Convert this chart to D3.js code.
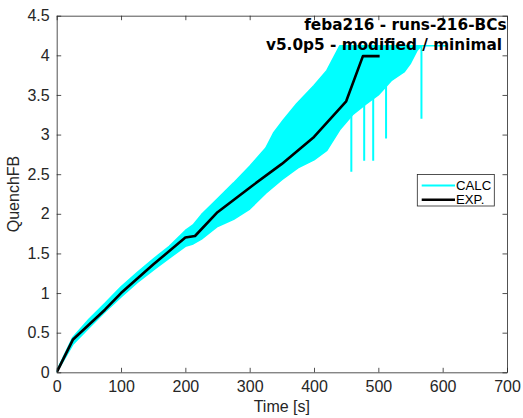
<!DOCTYPE html>
<html><head><meta charset="utf-8">
<script src="https://cdn.jsdelivr.net/npm/d3@7"></script>
<style>
html,body{margin:0;padding:0;background:#fff;}
svg{display:block;}
</style></head>
<body>
<svg id="chart" width="523" height="418"></svg>
<script>
// ---- data ----
const xTicks = [0,100,200,300,400,500,600,700];
const yTicks = [0,0.5,1,1.5,2,2.5,3,3.5,4,4.5];
const yTickLabels = ["0","0.5","1","1.5","2","2.5","3","3.5","4","4.5"];
const titleLines = ["feba216 - runs-216-BCs","v5.0p5 - modified / minimal"];
const seriesNames = ["CALC","EXP."];

// experimental quench front
const expTime  = [0, 25, 50, 75, 100, 150, 200, 215, 250, 300, 350, 400, 450, 476, 502];
const expValue = [0, 0.41, 0.60, 0.79, 1.0, 1.36, 1.70, 1.72, 2.02, 2.33, 2.63, 2.97, 3.42, 3.99, 3.99];

// calculated ensemble: envelope of runs
const calcUpperTime  = [0, 25, 50, 75, 100, 125, 150, 175, 200, 212, 225, 250, 275, 300, 325, 337, 352, 373, 400, 420, 440, 605];
const calcUpperValue = [0.02, 0.44, 0.67, 0.87, 1.08, 1.26, 1.43, 1.59, 1.79, 1.86, 1.99, 2.19, 2.39, 2.60, 2.83, 3.02, 3.18, 3.39, 3.62, 3.81, 4.12, 4.12];
const calcLowerTime  = [0, 25, 50, 75, 100, 125, 150, 175, 200, 212, 225, 250, 275, 300, 325, 350, 375, 400, 420, 440, 460, 480, 500, 520, 540, 550, 560, 567, 605];
const calcLowerValue = [0, 0.35, 0.56, 0.76, 0.95, 1.13, 1.29, 1.44, 1.59, 1.62, 1.68, 1.84, 1.93, 2.06, 2.26, 2.43, 2.58, 2.68, 2.80, 3.06, 3.25, 3.38, 3.50, 3.68, 3.79, 3.90, 4.06, 4.12, 4.12];
// drop-outs of individual runs after quench
const spikeTime   = [458, 478, 492, 512, 567];
const spikeBottom = [2.53, 2.67, 2.67, 2.95, 3.20];
const spikeTop    = [4.0, 4.05, 4.12, 4.12, 4.12];

// ---- layout ----
const svg = d3.select("#chart");
const m = {left:56.7, right:507, top:15.7, bottom:372.3};
const x = d3.scaleLinear().domain([0,700]).range([m.left, m.right]);
const y = d3.scaleLinear().domain([0,4.5]).range([m.bottom, m.top]);
const axisColor = "#262626";
const cyan = "#00FFFF";

// clip
svg.append("clipPath").attr("id","clip").append("rect")
  .attr("x",m.left).attr("y",m.top).attr("width",m.right-m.left).attr("height",m.bottom-m.top);
const plot = svg.append("g").attr("clip-path","url(#clip)");

// CALC envelope: build polygon from upper + reversed lower
const upperPts = calcUpperTime.map((t,i)=>[t,calcUpperValue[i]]);
const lowerPts = calcLowerTime.map((t,i)=>[t,calcLowerValue[i]]).reverse();
const band = upperPts.concat(lowerPts);
plot.append("path")
  .attr("d", d3.line().x(d=>x(d[0])).y(d=>y(d[1]))(band) + "Z")
  .attr("fill", cyan).attr("stroke", cyan).attr("stroke-width", 1.5).attr("stroke-linejoin","round");

// spikes
plot.selectAll("line.spike").data(spikeTime).enter().append("line")
  .attr("class","spike")
  .attr("x1",(d)=>x(d)).attr("x2",(d)=>x(d))
  .attr("y1",(d,i)=>y(spikeTop[i])).attr("y2",(d,i)=>y(spikeBottom[i]))
  .attr("stroke",cyan).attr("stroke-width",2);

// EXP line
const expPts = expTime.map((t,i)=>[t,expValue[i]]);
plot.append("path").datum(expPts)
  .attr("d", d3.line().x(d=>x(d[0])).y(d=>y(d[1])))
  .attr("fill","none").attr("stroke","#000").attr("stroke-width",2.6)
  .attr("stroke-linejoin","round");

// axes
const font = "'Liberation Sans', Arial, Helvetica, sans-serif";
const tickLen = 4.5;
const xAxis = d3.axisBottom(x).tickValues(xTicks).tickSizeInner(-tickLen).tickSizeOuter(0).tickPadding(8);
const yAxis = d3.axisLeft(y).tickValues(yTicks).tickFormat((d,i)=>yTickLabels[i]).tickSizeInner(-tickLen).tickSizeOuter(0).tickPadding(7);
const xTop = d3.axisTop(x).tickValues(xTicks).tickSizeInner(-tickLen).tickSizeOuter(0).tickFormat("");
const yRight = d3.axisRight(y).tickValues(yTicks).tickSizeInner(-tickLen).tickSizeOuter(0).tickFormat("");

function style(g){
  g.selectAll("path.domain").attr("stroke",axisColor).attr("stroke-width",0.8);
  g.selectAll(".tick line").attr("stroke",axisColor).attr("stroke-width",0.8);
  g.selectAll(".tick text").attr("fill",axisColor).style("font-family",font).style("font-size","16px");
}
svg.append("g").attr("transform",`translate(0,${m.bottom})`).call(xAxis).call(style);
svg.append("g").attr("transform",`translate(${m.left},0)`).call(yAxis).call(style);
svg.append("g").attr("transform",`translate(0,${m.top})`).call(xTop).call(style);
svg.append("g").attr("transform",`translate(${m.right},0)`).call(yRight).call(style);

// axis labels
svg.append("text").attr("x",(m.left+m.right)/2).attr("y",411.5)
  .attr("text-anchor","middle").attr("fill",axisColor)
  .style("font-family",font).style("font-size","16px").text("Time [s]");
svg.append("text").attr("transform",`translate(19,${(m.top+m.bottom)/2}) rotate(-90)`)
  .attr("text-anchor","middle").attr("fill",axisColor)
  .style("font-family",font).style("font-size","16px").text("QuenchFB");

// title lines (bold, right aligned inside axes)
const titleFont = "'DejaVu Sans', sans-serif";
svg.append("text").attr("x",506.5).attr("y",30).attr("text-anchor","end")
  .style("font-family",titleFont).style("font-weight","bold").style("font-size","15.3px")
  .attr("fill","#000").text(titleLines[0]);
svg.append("text").attr("x",502).attr("y",49.5).attr("text-anchor","end")
  .style("font-family",titleFont).style("font-weight","bold").style("font-size","15.3px")
  .attr("fill","#000").text(titleLines[1]);

// legend
const lg = svg.append("g");
lg.append("rect").attr("x",417.3).attr("y",174.5).attr("width",77).attr("height",31.5)
  .attr("fill","#fff").attr("stroke","#262626").attr("stroke-width",0.8);
const legendColors = [cyan,"#000"];
const legendY = [185.5, 199.8];
seriesNames.forEach((n,i)=>{
  lg.append("line").attr("x1",421.7).attr("x2",455).attr("y1",legendY[i]).attr("y2",legendY[i])
    .attr("stroke",legendColors[i]).attr("stroke-width",i===0?2:2.6);
  lg.append("text").attr("x",456).attr("y",legendY[i]+4.6).attr("fill","#000")
    .style("font-family",font).style("font-size","13.2px").text(n);
});
</script>
</body></html>
